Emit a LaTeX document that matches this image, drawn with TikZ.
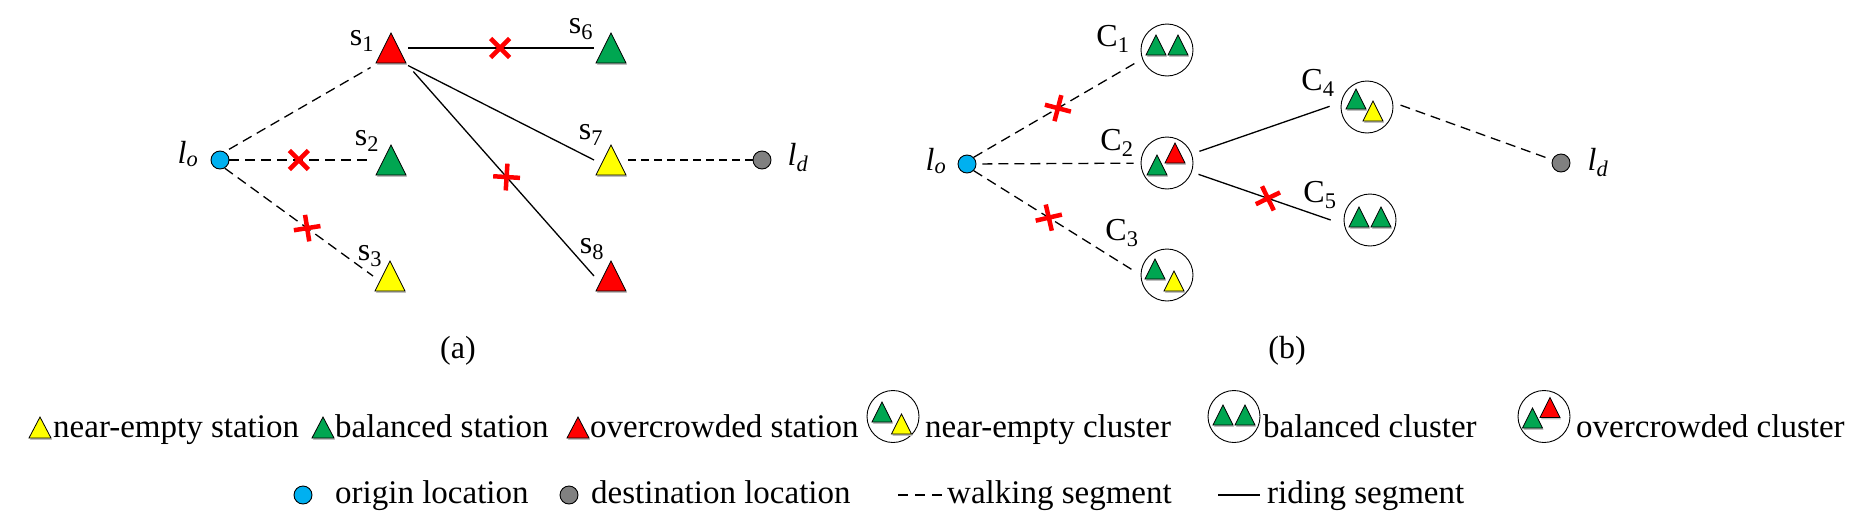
\documentclass[tikz,border=0pt]{standalone}
\usepackage{fontspec}
\setmainfont{Liberation Serif}
\usetikzlibrary{shapes.misc}
\definecolor{tyellow}{RGB}{255,255,0}
\definecolor{tgreen}{RGB}{0,166,81}
\definecolor{tred}{RGB}{255,0,0}
\definecolor{tblue}{RGB}{0,176,240}
\definecolor{tgray}{RGB}{128,128,128}
\newcommand\trip[3]{%
  \fill[black!25] ([shift={(-#2/2+1pt,-#3/2-1.8pt)}]path picture bounding box.center) -- ++(#2,0pt) -- ++(-#2/2,#3) -- cycle;
  \filldraw[fill=#1,draw=black,line width=0.8pt,line join=miter] ([shift={(-#2/2,-#3/2)}]path picture bounding box.center) -- ++(#2,0pt) -- ++(-#2/2,#3) -- cycle;}
\begin{document}
\begin{tikzpicture}[x=1pt,y=-1pt,
  tri/.style={rectangle, draw=none, inner sep=0pt, outer sep=0pt, minimum width=34pt, minimum height=35pt, path picture={\trip{#1}{30pt}{30pt}}},
  stri/.style={rectangle, draw=none, inner sep=0pt, outer sep=0pt, minimum width=24pt, minimum height=25pt, path picture={\trip{#1}{20pt}{20pt}}},
  ltri/.style={rectangle, draw=none, inner sep=0pt, outer sep=0pt, minimum width=26pt, minimum height=26pt, path picture={\trip{#1}{22pt}{21pt}}},
  clus/.style={circle, draw=black, line width=0.9pt, minimum size=52pt, inner sep=0pt},
  dot/.style={circle, draw=black, line width=0.9pt, minimum size=18pt, inner sep=0pt, fill=#1},
  walk/.style={draw=black, line width=1.3pt, dash pattern=on 10pt off 6pt},
  ride/.style={draw=black, line width=1.3pt},
  xcross/.style={cross out, draw=tred, solid, line width=4.5pt, minimum size=19pt, inner sep=0pt, outer sep=0pt, sloped, shorten <=0pt, shorten >=0pt},
  lbl/.style={font=\fontsize{32}{38}\selectfont, inner sep=0pt, anchor=base},
  leg/.style={font=\fontsize{33}{40}\selectfont, inner sep=0pt, anchor=base west}]
\useasboundingbox (0,0) rectangle (1876,525);

% ---------------- panel (a)
\node[dot=tblue] (lo) at (220,160) {};
\node[dot=tgray] (ld) at (762,160) {};
\node[tri=tred] (s1) at (391,48) {};
\node[tri=tgreen] (s2) at (391,160) {};
\node[tri=tyellow] (s3) at (390,276) {};
\node[tri=tgreen] (s6) at (611,48) {};
\node[tri=tyellow] (s7) at (611,160) {};
\node[tri=tred] (s8) at (611,276) {};
\node[lbl] (ls1) at (362,45) {s\textsubscript{1}};
\node[lbl] (ls2) at (367,145) {s\textsubscript{2}};
\node[lbl] (ls3) at (370,260) {s\textsubscript{3}};
\node[lbl] (ls6) at (581,33) {s\textsubscript{6}};
\node[lbl] (ls7) at (591,139) {s\textsubscript{7}};
\node[lbl] (ls8) at (592,253) {s\textsubscript{8}};
\node[lbl] (llo) at (188,163) {\textit{l}\textsubscript{\textit{o}}};
\node[lbl] (lld) at (798,165) {\textit{l}\textsubscript{\textit{d}}};

\draw[walk, shorten <=5pt, shorten >=4pt] (lo.60) -- (s1.south west);
\draw[walk, shorten >=4pt] (lo) -- node[xcross,pos=0.48]{} (s2);
\draw[walk] (lo.300) -- node[xcross,pos=0.556]{} (s3.west);
\draw[ride] (s1) -- node[xcross,pos=0.495]{} (s6);
\draw[ride] (s1.south east) -- (s7.west);
\draw[ride, shorten <=8pt] (s1.south east) -- node[xcross,pos=0.53]{} (s8.west);
\draw[walk, dash pattern=on 8pt off 5pt] (s7) -- (ld);
\node[lbl, anchor=center] (capa) at (458,351) {(a)};

% ---------------- panel (b)
\node[dot=tblue] (lo2) at (967,164) {};
\node[dot=tgray] (ld2) at (1561,163) {};
\node[clus] (C1) at (1167,50) {};
\node[clus] (C2) at (1167,163) {};
\node[clus] (C3) at (1167,275) {};
\node[clus] (C4) at (1367,107) {};
\node[clus] (C5) at (1370,220) {};
\node[stri=tgreen] (c1a) at ([shift={(-11,-5)}]C1.center) {};
\node[stri=tgreen] (c1b) at ([shift={(11,-5)}]C1.center) {};
\node[stri=tred] (c2b) at ([shift={(8,-10)}]C2.center) {};
\node[stri=tgreen] (c2a) at ([shift={(-10,2)}]C2.center) {};
\node[stri=tgreen] (c3a) at ([shift={(-12,-6)}]C3.center) {};
\node[stri=tyellow] (c3b) at ([shift={(7,6)}]C3.center) {};
\node[stri=tgreen] (c4a) at ([shift={(-11,-8)}]C4.center) {};
\node[stri=tyellow] (c4b) at ([shift={(6,4)}]C4.center) {};
\node[stri=tgreen] (c5a) at ([shift={(-11,-3)}]C5.center) {};
\node[stri=tgreen] (c5b) at ([shift={(11,-3)}]C5.center) {};
\node[lbl] (lC1) at (1113,46) {C\textsubscript{1}};
\node[lbl] (lC2) at (1117,150) {C\textsubscript{2}};
\node[lbl] (lC3) at (1122,240) {C\textsubscript{3}};
\node[lbl] (lC4) at (1318,90) {C\textsubscript{4}};
\node[lbl] (lC5) at (1320,202) {C\textsubscript{5}};
\node[lbl] (llo2) at (936,170) {\textit{l}\textsubscript{\textit{o}}};
\node[lbl] (lld2) at (1598,170) {\textit{l}\textsubscript{\textit{d}}};

\draw[walk, shorten >=8pt] (lo2.north east) -- node[xcross,pos=0.5]{} (C1.200);
\draw[walk, shorten <=6pt, shorten >=7pt] (lo2) -- (C2);
\draw[walk, shorten >=8pt] (lo2.south east) -- node[xcross,pos=0.45]{} (C3.west);
\draw[ride, shorten <=8pt, shorten >=12pt] (C2.20) -- (C4.170);
\draw[ride, shorten <=7pt, shorten >=14pt] (C2.340) -- node[xcross,pos=0.5]{} (C5.190);
\draw[walk, shorten <=8pt, shorten >=5pt] (C4.10) -- (ld2);
\node[lbl, anchor=center] (capb) at (1287,351) {(b)};

% ---------------- legend row 1
\node[ltri=tyellow] (gt1) at (40,427.5) {};
\node[leg] (gx1) at (53,437.5) {near-empty station};
\node[ltri=tgreen] (gt2) at (323,427.5) {};
\node[leg] (gx2) at (335,437.5) {balanced station};
\node[ltri=tred] (gt3) at (578,427.5) {};
\node[leg] (gx3) at (590,437.5) {overcrowded station};
\node[clus] (gc1) at (893,416.5) {};
\node[stri=tgreen] (gc1a) at ([shift={(-11,-4.5)}]gc1.center) {};
\node[stri=tyellow] (gc1b) at ([shift={(8.5,7.5)}]gc1.center) {};
\node[leg] (gx4) at (925,437.5) {near-empty cluster};
\node[clus] (gc2) at (1234,416.5) {};
\node[stri=tgreen] (gc2a) at ([shift={(-11,-1.5)}]gc2.center) {};
\node[stri=tgreen] (gc2b) at ([shift={(11,-1.5)}]gc2.center) {};
\node[leg] (gx5) at (1263,437.5) {balanced cluster};
\node[clus] (gc3) at (1544,416.5) {};
\node[stri=tred] (gc3b) at ([shift={(6,-9)}]gc3.center) {};
\node[stri=tgreen] (gc3a) at ([shift={(-11.5,1.5)}]gc3.center) {};
\node[leg] (gx6) at (1576,437.5) {overcrowded cluster};

% ---------------- legend row 2
\node[dot=tblue] (gd1) at (303,495) {};
\node[leg] (gy1) at (335,503) {origin location};
\node[dot=tgray] (gd2) at (569,495) {};
\node[leg] (gy2) at (591,503) {destination location};
\coordinate (gw1) at (898,495);
\coordinate (gw2) at (943,495);
\draw[walk, dash pattern=on 10pt off 7pt] (gw1) -- (gw2);
\node[leg] (gy3) at (947,503) {walking segment};
\coordinate (gr1) at (1218,495);
\coordinate (gr2) at (1260,495);
\draw[ride] (gr1) -- (gr2);
\node[leg] (gy4) at (1267,503) {riding segment};
\end{tikzpicture}
\end{document}
